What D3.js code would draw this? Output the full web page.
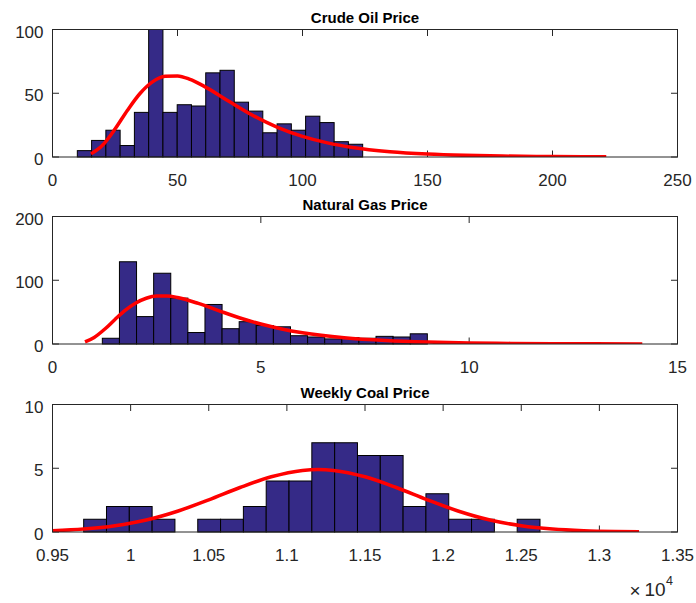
<!DOCTYPE html>
<html>
<head>
<meta charset="utf-8">
<script src="https://cdn.jsdelivr.net/npm/d3@7"></script>
<style>
  html, body { margin: 0; padding: 0; background: #fff; }
  svg { display: block; font-family: "Liberation Sans", Arial, Helvetica, sans-serif; }
</style>
</head>
<body>
<svg id="chart" width="696" height="603"></svg>
<script>
// ---- Crude oil: histogram (20 bins) and fitted lognormal density ----
const oilTitle = "Crude Oil Price";
const oilBinLo = 9.93, oilBinHi = 124.07;
const oilCounts = [5, 13, 21, 9, 35, 100, 35, 41, 40, 66, 68, 43, 36, 19, 26, 21, 32, 27, 12, 10];
const oilFitX = [15.4, 20, 25, 30, 35, 40, 45, 50, 55, 60, 70, 80, 90, 100, 110, 120, 135, 150, 165, 180, 200, 221.5];
const oilFitY = [2.44, 9.25, 21.9, 36.7, 49.8, 58.9, 63.3, 63.6, 60.9, 56.2, 44.4, 32.8, 23.3, 16.2, 11.1, 7.52, 4.19, 2.34, 1.32, 0.75, 0.36, 0.17];
const oilXTicks = [0, 50, 100, 150, 200, 250];
const oilYTicks = [0, 50, 100];

// ---- Natural gas ----
const gasTitle = "Natural Gas Price";
const gasBinLo = 1.196, gasBinHi = 8.996;
const gasCounts = [9, 129, 43, 111, 72, 18, 62, 24, 35, 29, 27, 13, 11, 8, 10, 9, 12, 11, 16];
const gasFitX = [0.78, 1, 1.25, 1.5, 1.75, 2, 2.25, 2.5, 2.75, 3, 3.5, 4, 4.5, 5, 5.5, 6, 7, 8, 9, 10, 11, 12, 13, 14.155];
const gasFitY = [3.19, 10.2, 23.1, 38.5, 53.0, 64.4, 71.8, 75.3, 75.4, 73.0, 63.6, 52.0, 40.8, 31.3, 23.6, 17.65, 9.73, 5.35, 2.96, 1.66, 0.95, 0.55, 0.32, 0.18];
const gasXTicks = [0, 5, 10, 15];
const gasYTicks = [0, 100, 200];

// ---- Weekly coal ----
const coalTitle = "Weekly Coal Price";
const coalBinLo = 9699.5, coalBinHi = 12620;
const coalCounts = [1, 2, 2, 1, 0, 1, 1, 2, 4, 4, 7, 7, 6, 6, 2, 3, 1, 1, 0, 1];
const coalFitX = [9500, 9700, 9900, 10100, 10300, 10500, 10700, 10900, 11100, 11200, 11300, 11500, 11700, 11900, 12100, 12300, 12500, 12700, 12900, 13100, 13254];
const coalFitY = [0.10, 0.23, 0.49, 0.94, 1.63, 2.52, 3.49, 4.33, 4.83, 4.90, 4.83, 4.33, 3.49, 2.52, 1.63, 0.94, 0.49, 0.23, 0.10, 0.04, 0.02];
const coalXTicks = [9500, 10000, 10500, 11000, 11500, 12000, 12500, 13000, 13500];
const coalXLabels = ["0.95", "1", "1.05", "1.1", "1.15", "1.2", "1.25", "1.3", "1.35"];
const coalYTicks = [0, 5, 10];
const coalExponent = "4";

const panels = [
  { title: oilTitle, lo: oilBinLo, hi: oilBinHi, counts: oilCounts, fx: oilFitX, fy: oilFitY,
    xDomain: [0, 250], yDomain: [0, 100], xTicks: oilXTicks, xLabels: oilXTicks.map(String), yTicks: oilYTicks, top: 29.5 },
  { title: gasTitle, lo: gasBinLo, hi: gasBinHi, counts: gasCounts, fx: gasFitX, fy: gasFitY,
    xDomain: [0, 15], yDomain: [0, 200], xTicks: gasXTicks, xLabels: gasXTicks.map(String), yTicks: gasYTicks, top: 216.5 },
  { title: coalTitle, lo: coalBinLo, hi: coalBinHi, counts: coalCounts, fx: coalFitX, fy: coalFitY,
    xDomain: [9500, 13500], yDomain: [0, 10], xTicks: coalXTicks, xLabels: coalXLabels, yTicks: coalYTicks, top: 404.5 }
];

const svg = d3.select("#chart");
const left = 52.5, right = 677.5, plotH = 127.5, tickLen = 6.5;
const axisColor = "#262626";
const barFill = "#352a87";

panels.forEach((p, idx) => {
  const x = d3.scaleLinear().domain(p.xDomain).range([left, right]);
  const y = d3.scaleLinear().domain(p.yDomain).range([p.top + plotH, p.top]);
  const g = svg.append("g");

  const clipId = "clip" + idx;
  svg.append("clipPath").attr("id", clipId)
    .append("rect").attr("x", left).attr("y", p.top - 3).attr("width", right - left).attr("height", plotH + 3);

  // inward ticks on all four sides (drawn beneath the data)
  const ticks = g.append("g").attr("stroke", axisColor).attr("stroke-width", 1);
  p.xTicks.forEach(t => {
    ticks.append("line").attr("x1", x(t)).attr("x2", x(t)).attr("y1", y.range()[0]).attr("y2", y.range()[0] - tickLen);
    ticks.append("line").attr("x1", x(t)).attr("x2", x(t)).attr("y1", y.range()[1]).attr("y2", y.range()[1] + tickLen);
  });
  p.yTicks.forEach(t => {
    ticks.append("line").attr("x1", left).attr("x2", left + tickLen).attr("y1", y(t)).attr("y2", y(t));
    ticks.append("line").attr("x1", right).attr("x2", right - tickLen).attr("y1", y(t)).attr("y2", y(t));
  });

  // histogram bars
  const w = (p.hi - p.lo) / p.counts.length;
  const bins = p.counts.map((c, i) => ({ x0: p.lo + i * w, x1: p.lo + (i + 1) * w, n: c }));
  g.append("g").selectAll("rect").data(bins).join("rect")
    .attr("x", d => x(d.x0))
    .attr("y", d => y(d.n))
    .attr("width", d => x(d.x1) - x(d.x0))
    .attr("height", d => y(0) - y(d.n))
    .attr("fill", barFill)
    .attr("stroke", "#000")
    .attr("stroke-width", 1);

  // fitted density curve
  const pts = p.fx.map((v, i) => [v, p.fy[i]]);
  g.append("path")
    .attr("clip-path", `url(#${clipId})`)
    .attr("d", d3.line().x(d => x(d[0])).y(d => y(d[1])).curve(d3.curveMonotoneX)(pts))
    .attr("fill", "none")
    .attr("stroke", "#ff0000")
    .attr("stroke-width", 3.5)
    .attr("stroke-linejoin", "round");

  // axes box
  g.append("rect")
    .attr("x", left).attr("y", p.top).attr("width", right - left).attr("height", plotH)
    .attr("fill", "none").attr("stroke", axisColor).attr("stroke-width", 1);

  // tick labels
  const lab = g.append("g").attr("fill", axisColor).attr("font-size", 17);
  p.xTicks.forEach((t, i) => {
    lab.append("text").attr("x", x(t)).attr("y", y.range()[0] + 29)
      .attr("text-anchor", "middle").text(p.xLabels[i]);
  });
  p.yTicks.forEach(t => {
    lab.append("text").attr("x", left - 9).attr("y", y(t) + 8)
      .attr("text-anchor", "end").text(t);
  });

  // title
  g.append("text")
    .attr("x", (left + right) / 2).attr("y", p.top - 7)
    .attr("text-anchor", "middle")
    .attr("font-size", 15).attr("font-weight", "bold").attr("fill", "#000")
    .text(p.title);

  // exponent note under the coal axis
  if (idx === 2) {
    const ex = g.append("g").attr("fill", axisColor);
    ex.append("text").attr("x", 629.5).attr("y", 597).attr("font-size", 19).text("\u00d7");
    ex.append("text").attr("x", 644.5).attr("y", 596).attr("font-size", 19).text("10");
    ex.append("text").attr("x", 666).attr("y", 585).attr("font-size", 12.5).text(coalExponent);
  }
});
</script>
</body>
</html>
